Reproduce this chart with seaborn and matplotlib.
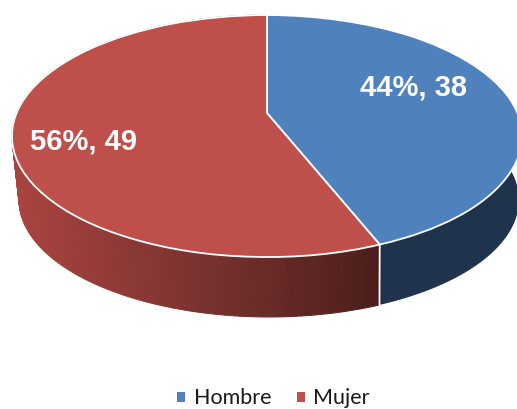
import numpy as np
import matplotlib
matplotlib.use('Agg')
import matplotlib.pyplot as plt
import matplotlib.transforms as mtransforms
from matplotlib.colors import LinearSegmentedColormap
import seaborn as sns

# values
categories = ['Hombre', 'Mujer']
counts = [38, 49]
percents = [44, 56]

top_colors = sns.color_palette(['#4F81BD', '#BE4F4B'])
legend_colors = ['#4F81BD', '#C0504D']
blue_side = '#1F334D'
red_side = LinearSegmentedColormap.from_list('side', ['#A8433F', '#7A3230', '#4C1E1B'])


# tilt of the disc, goes from the unit circle to pixels
def tilt(uv):
    uv = np.asarray(uv, dtype=float)
    r = np.hypot(uv[:, 0], uv[:, 1])
    phi = np.arctan2(uv[:, 0], uv[:, 1])
    # small angle correction, the radial lines of the original lean a bit
    phi = phi + 0.045 * np.sin(phi)
    u, v = r * np.sin(phi), r * np.cos(phi)
    d = 1 + 0.19 * v
    return np.column_stack([267 + 250.4 * u / d, (113 - 95.15 * v) / d])


# same disc, lower down (underside of the pie)
def tilt_low(uv):
    xy = tilt(uv)
    return np.column_stack([269 + (xy[:, 0] - 267) * 0.98, 200 + (xy[:, 1] - 136) * 0.967])


class Tilt(mtransforms.Transform):
    input_dims = 2
    output_dims = 2
    is_separable = False
    has_inverse = False

    def transform_non_affine(self, values):
        return tilt(values)


sns.set_theme(style='white')
plt.rcParams['font.family'] = ['Liberation Sans', 'DejaVu Sans']

fig, ax = plt.subplots(figsize=(5.17, 4.09), dpi=100)
ax.set_position([0, 0, 1, 1])

wedges, _ = ax.pie(counts, colors=top_colors, startangle=90, counterclock=False,
                   wedgeprops={'edgecolor': 'white', 'linewidth': 1.3})
ax.set_aspect('auto')
ax.set_xlim(0, 517)
ax.set_ylim(409, 0)
for w in wedges:
    w.set_transform(Tilt() + ax.transData)

# side wall of the pie, thin slices so the red part can have its gradient
split = counts[0] / sum(counts)
fracs = np.linspace(split, 1, 200)
angles = np.radians(90 - 360 * fracs)
uv = np.column_stack([np.cos(angles), np.sin(angles)])
hi = tilt(uv)
lo = tilt_low(uv)
for i in range(len(fracs) - 1):
    quad = np.array([hi[i], hi[i + 1], lo[i + 1], lo[i]])
    t = np.clip((quad[:, 0].mean() - 20) / 358, 0, 1)
    ax.fill(quad[:, 0], quad[:, 1], color=red_side(t), lw=0.7, zorder=0.5)

# the blue part is flat, one polygon
fracs = np.linspace(0, split, 120)
angles = np.radians(90 - 360 * fracs)
uv = np.column_stack([np.cos(angles), np.sin(angles)])
wall = np.vstack([tilt(uv), tilt_low(uv)[::-1]])
ax.fill(wall[:, 0], wall[:, 1], color=blue_side, lw=0, zorder=0.5)

# white seam where the two colours meet on the wall
seam = np.radians(90 - 360 * split)
seam_uv = [[np.cos(seam), np.sin(seam)]]
a, b = tilt(seam_uv)[0], tilt_low(seam_uv)[0]
ax.plot([a[0], b[0]], [a[1], b[1]], color='white', lw=1.3, zorder=0.8)

# labels
for xy, p, n in zip([(413, 88), (84, 142)], percents, counts):
    ax.text(xy[0], xy[1], f'{p}%, {n}', color='white', fontsize=21, fontweight='bold',
            ha='center', va='center')

leg = ax.legend(wedges, categories, loc='lower center', bbox_to_anchor=(0.529, -0.046), ncol=2,
                frameon=False, prop={'family': 'Lato', 'size': 15.5},
                handlelength=0.37, handleheight=0.37, handletextpad=0.4, columnspacing=1.2,
                labelcolor='#1a1a1a')
for h, c in zip(leg.legend_handles, legend_colors):
    h.set_facecolor(c)
    h.set_edgecolor(c)
    h.set_linewidth(0)

fig.savefig('out.png', dpi=100)
